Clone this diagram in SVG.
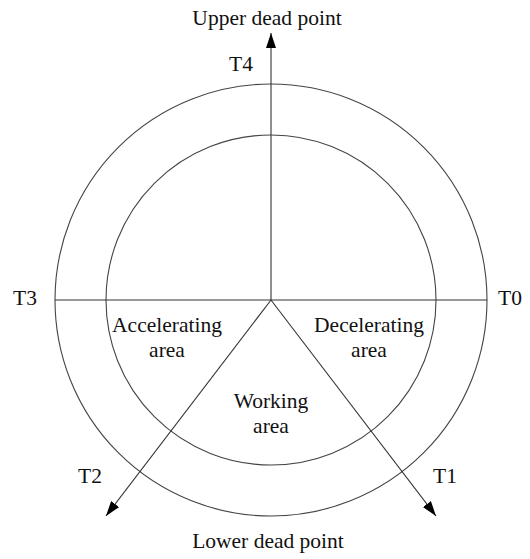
<svg xmlns="http://www.w3.org/2000/svg" width="530" height="559" viewBox="0 0 530 559">
<defs>
<marker id="arr" markerWidth="16" markerHeight="11" refX="15" refY="5" orient="auto" markerUnits="userSpaceOnUse">
<path d="M0,0 L15,5 L0,10 Z" fill="#000"/>
</marker>
<style>
.c{fill:none;stroke:#444;stroke-width:1.1}
.l{fill:none;stroke:#333;stroke-width:1.1}
.t{font-size:21.5px;fill:#111}
.m{text-anchor:middle}
</style>
</defs>
<rect width="530" height="559" fill="#fff"/>
<g id="outer-circle"><circle class="c" cx="271" cy="300" r="216"/></g>
<g id="inner-circle"><circle class="c" cx="271" cy="300" r="165"/></g>
<g id="connectors">
<line class="l" x1="55" y1="300" x2="487" y2="300"/>
<line class="l" x1="271" y1="300" x2="271" y2="33" marker-end="url(#arr)"/>
<line class="l" x1="271" y1="300" x2="436" y2="516" marker-end="url(#arr)"/>
<line class="l" x1="271" y1="300" x2="106" y2="516" marker-end="url(#arr)"/>
</g>
<g font-family="Liberation Serif, Times New Roman, DejaVu Serif, serif">
<g id="labels">
<text class="t m" x="267" y="25">Upper dead point</text>
<text class="t" x="229" y="71">T4</text>
<text class="t" x="13" y="305">T3</text>
<text class="t" x="498" y="305">T0</text>
<text class="t" x="78" y="483">T2</text>
<text class="t" x="433" y="483">T1</text>
<text class="t m" x="268" y="548">Lower dead point</text>
</g>
<g id="accelerating-area"><text class="t m" x="167" y="332">Accelerating</text><text class="t m" x="167" y="357">area</text></g>
<g id="decelerating-area"><text class="t m" x="369" y="332">Decelerating</text><text class="t m" x="369" y="357">area</text></g>
<g id="working-area"><text class="t m" x="271" y="408">Working</text><text class="t m" x="271" y="433">area</text></g>
</g>
</svg>
